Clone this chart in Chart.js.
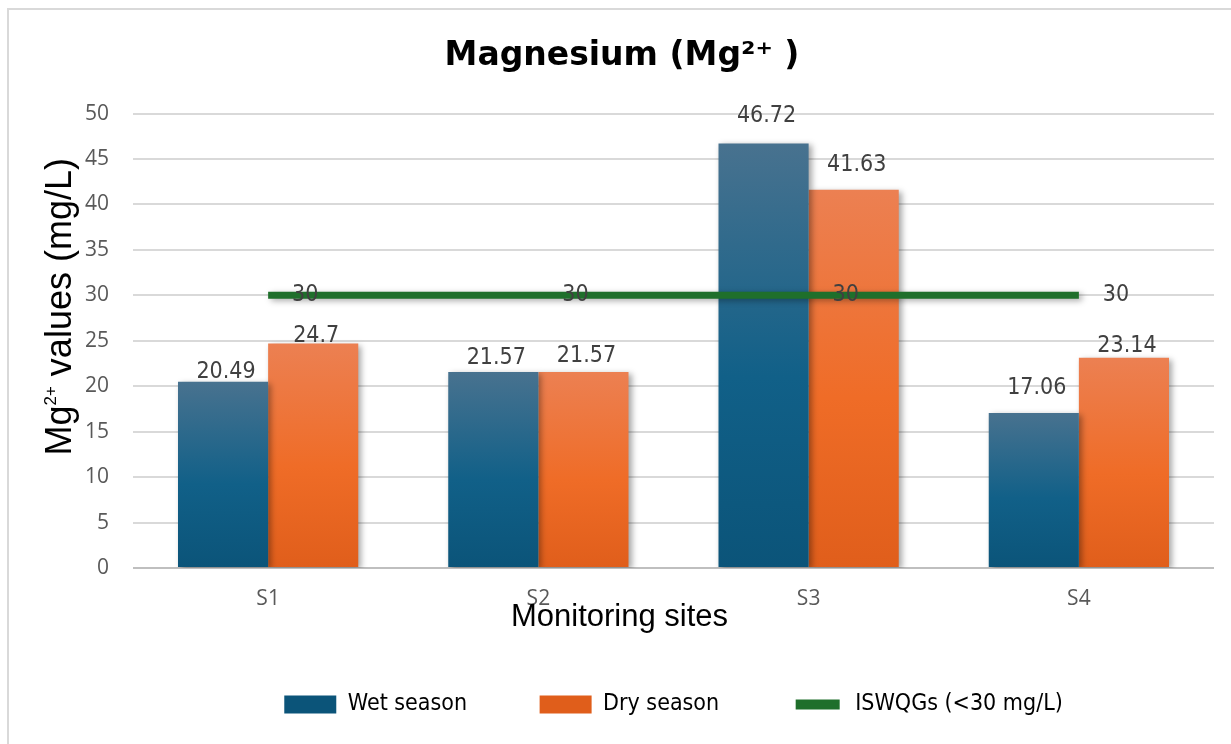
<!DOCTYPE html>
<html>
<head>
<meta charset="utf-8">
<script src="https://cdn.jsdelivr.net/npm/chart.js@4"></script>
<style>
  html, body { margin: 0; padding: 0; background: #fff; overflow: hidden; }
  #frame { position: absolute; left: 7px; top: 8px; width: 1300px; height: 800px; border: 2px solid #d9d9d9; }
  #wrap { position: absolute; left: 0; top: 0; width: 1231px; height: 744px; }
</style>
</head>
<body>
<div id="frame"></div>
<div id="wrap"><canvas id="mgChart"></canvas></div>
<script>
const sites = ['S1', 'S2', 'S3', 'S4'];
const wetSeason = [20.49, 21.57, 46.72, 17.06];
const drySeason = [24.7, 21.57, 41.63, 23.14];
const guideline = [30, 30, 30, 30];
const yMin = 0, yMax = 50, yStep = 5;

// vertical gradient per bar, from its top down to the zero line
function barFill(top, mid, bottom) {
    return function(ctx) {
        const chart = ctx.chart;
        const y = chart.scales.y;
        let y0 = 680, y1 = 720;
        if (ctx.type === 'data' && y) {
            y0 = y.getPixelForValue(ctx.raw);
            y1 = y.getPixelForValue(0);
        }
        if (!isFinite(y0) || !isFinite(y1) || y0 === y1) return mid;
        const g = chart.ctx.createLinearGradient(0, y0, 0, y1);
        g.addColorStop(0, top);
        g.addColorStop(0.55, mid);
        g.addColorStop(1, bottom);
        return g;
    };
}

// soft drop shadow under bars and the guideline
const shadowPlugin = {
    id: 'softShadow',
    beforeDatasetsDraw(chart) {
        const c = chart.ctx;
        c.save();
        c.shadowColor = 'rgba(0,0,0,0.35)';
        c.shadowBlur = 6;
        c.shadowOffsetX = 3;
        c.shadowOffsetY = 2;
    },
    afterDatasetsDraw(chart) {
        chart.ctx.restore();
    }
};

// value labels: above bars, to the right of line points
const valueLabels = {
    id: 'valueLabels',
    afterDatasetsDraw(chart, args, opts) {
        const c = chart.ctx;
        c.save();
        c.font = '23px "DejaVu Sans Condensed", "DejaVu Sans", sans-serif';
        c.fillStyle = '#404040';
        c.textBaseline = 'middle';
        c.textAlign = 'center';
        chart.data.datasets.forEach((ds, i) => {
            const meta = chart.getDatasetMeta(i);
            meta.data.forEach((el, j) => {
                const text = String(ds.data[j]);
                if (ds.type === 'line') {
                    c.fillText(text, el.x + 37, el.y);
                } else {
                    const lift = (opts.lift[i] || [])[j] || 14;
                    c.fillText(text, el.x + 3, el.y - lift);
                }
            });
        });
        c.restore();
    }
};

// axis titles, drawn by hand so the charge can sit as a real superscript
const axisTitles = {
    id: 'axisTitles',
    afterDraw(chart) {
        const c = chart.ctx;
        const a = chart.chartArea;
        c.save();
        c.fillStyle = '#000';
        c.textBaseline = 'middle';
        c.textAlign = 'center';
        c.font = '31px "Liberation Sans", Arial, sans-serif';
        c.fillText('Monitoring sites', (a.left + a.right) / 2 - 54, a.bottom + 49);

        const mainFont = '36px "Liberation Sans", Arial, sans-serif';
        const supFont = '17px "Liberation Sans", Arial, sans-serif';
        const parts = [['Mg', mainFont, 0], ['2+', supFont, -15], [' values (mg/L)', mainFont, 0]];
        let total = 0;
        parts.forEach(p => { c.font = p[1]; total += c.measureText(p[0]).width; });
        c.translate(a.left - 62, (a.top + a.bottom) / 2 - 34);
        c.rotate(-Math.PI / 2);
        c.textAlign = 'left';
        c.textBaseline = 'alphabetic';
        let x = -total / 2;
        parts.forEach(p => {
            c.font = p[1];
            c.fillText(p[0], x, p[2]);
            x += c.measureText(p[0]).width;
        });
        c.restore();
    }
};

const ctx = document.getElementById('mgChart').getContext('2d');
const mgChart = new Chart(ctx, {
    data: {
        labels: sites,
        datasets: [
            {
                type: 'line',
                label: 'ISWQGs (<30 mg/L)',
                data: guideline,
                borderColor: '#1f6f2b',
                backgroundColor: '#1f6f2b',
                borderWidth: 7,
                borderCapStyle: 'butt',
                pointRadius: 0,
                order: 0
            },
            {
                type: 'bar',
                label: 'Wet season',
                data: wetSeason,
                backgroundColor: barFill('#48728f', '#116088', '#0b5479'),
                categoryPercentage: 0.667,
                barPercentage: 1.0,
                order: 1
            },
            {
                type: 'bar',
                label: 'Dry season',
                data: drySeason,
                backgroundColor: barFill('#ec8052', '#ef6c27', '#e05e1b'),
                categoryPercentage: 0.667,
                barPercentage: 1.0,
                order: 2
            }
        ]
    },
    options: {
        responsive: true,
        maintainAspectRatio: false,
        animation: false,
        layout: {
            padding: { left: 30, right: 17, top: 0, bottom: 18 }
        },
        scales: {
            x: {
                afterFit(scale) { scale.height = 105; },
                grid: { display: false },
                border: { display: false },
                ticks: {
                    color: '#595959',
                    font: { family: '"Open Sans", sans-serif', size: 21 },
                    padding: 10
                }
            },
            y: {
                min: yMin,
                max: yMax,
                afterFit(scale) { scale.width = 103; },
                grid: {
                    drawTicks: false,
                    lineWidth: 2,
                    color: (c) => c.tick && c.tick.value === 0 ? '#bfbfbf' : '#d9d9d9'
                },
                border: { display: false },
                ticks: {
                    stepSize: yStep,
                    color: '#595959',
                    font: { family: '"Open Sans", sans-serif', size: 21 },
                    padding: 24
                }
            }
        },
        plugins: {
            title: {
                display: true,
                text: 'Magnesium (Mg²⁺ )',
                color: '#000',
                font: { family: '"DejaVu Sans", sans-serif', size: 33, weight: 'bold' },
                padding: { top: 37, bottom: 37 }
            },
            legend: {
                position: 'bottom',
                fullSize: false,
                labels: {
                    color: '#000',
                    font: { family: '"DejaVu Sans Condensed", "DejaVu Sans", sans-serif', size: 23 },
                    boxWidth: 52,
                    boxHeight: 18,
                    padding: 20,
                    sort: (a, b) => {
                        const rank = [2, 0, 1];
                        return rank[a.datasetIndex] - rank[b.datasetIndex];
                    },
                    generateLabels(chart) {
                        const items = Chart.defaults.plugins.legend.labels.generateLabels(chart);
                        items.forEach(it => {
                            if (it.datasetIndex === 0) {
                                it.fillStyle = '#1f6f2b';
                                it.strokeStyle = '#ffffff';
                                it.lineWidth = 8;
                            } else {
                                it.lineWidth = 0;
                                // extra room after the bar entries
                                it.text = it.text + '\u00a0'.repeat(8);
                            }
                        });
                        return items;
                    }
                }
            },
            tooltip: { enabled: false },
            valueLabels: {
                lift: [[], [10, 14, 27, 25], [7, 16, 25, 12]]
            }
        }
    },
    plugins: [shadowPlugin, valueLabels, axisTitles]
});
</script>
</body>
</html>
